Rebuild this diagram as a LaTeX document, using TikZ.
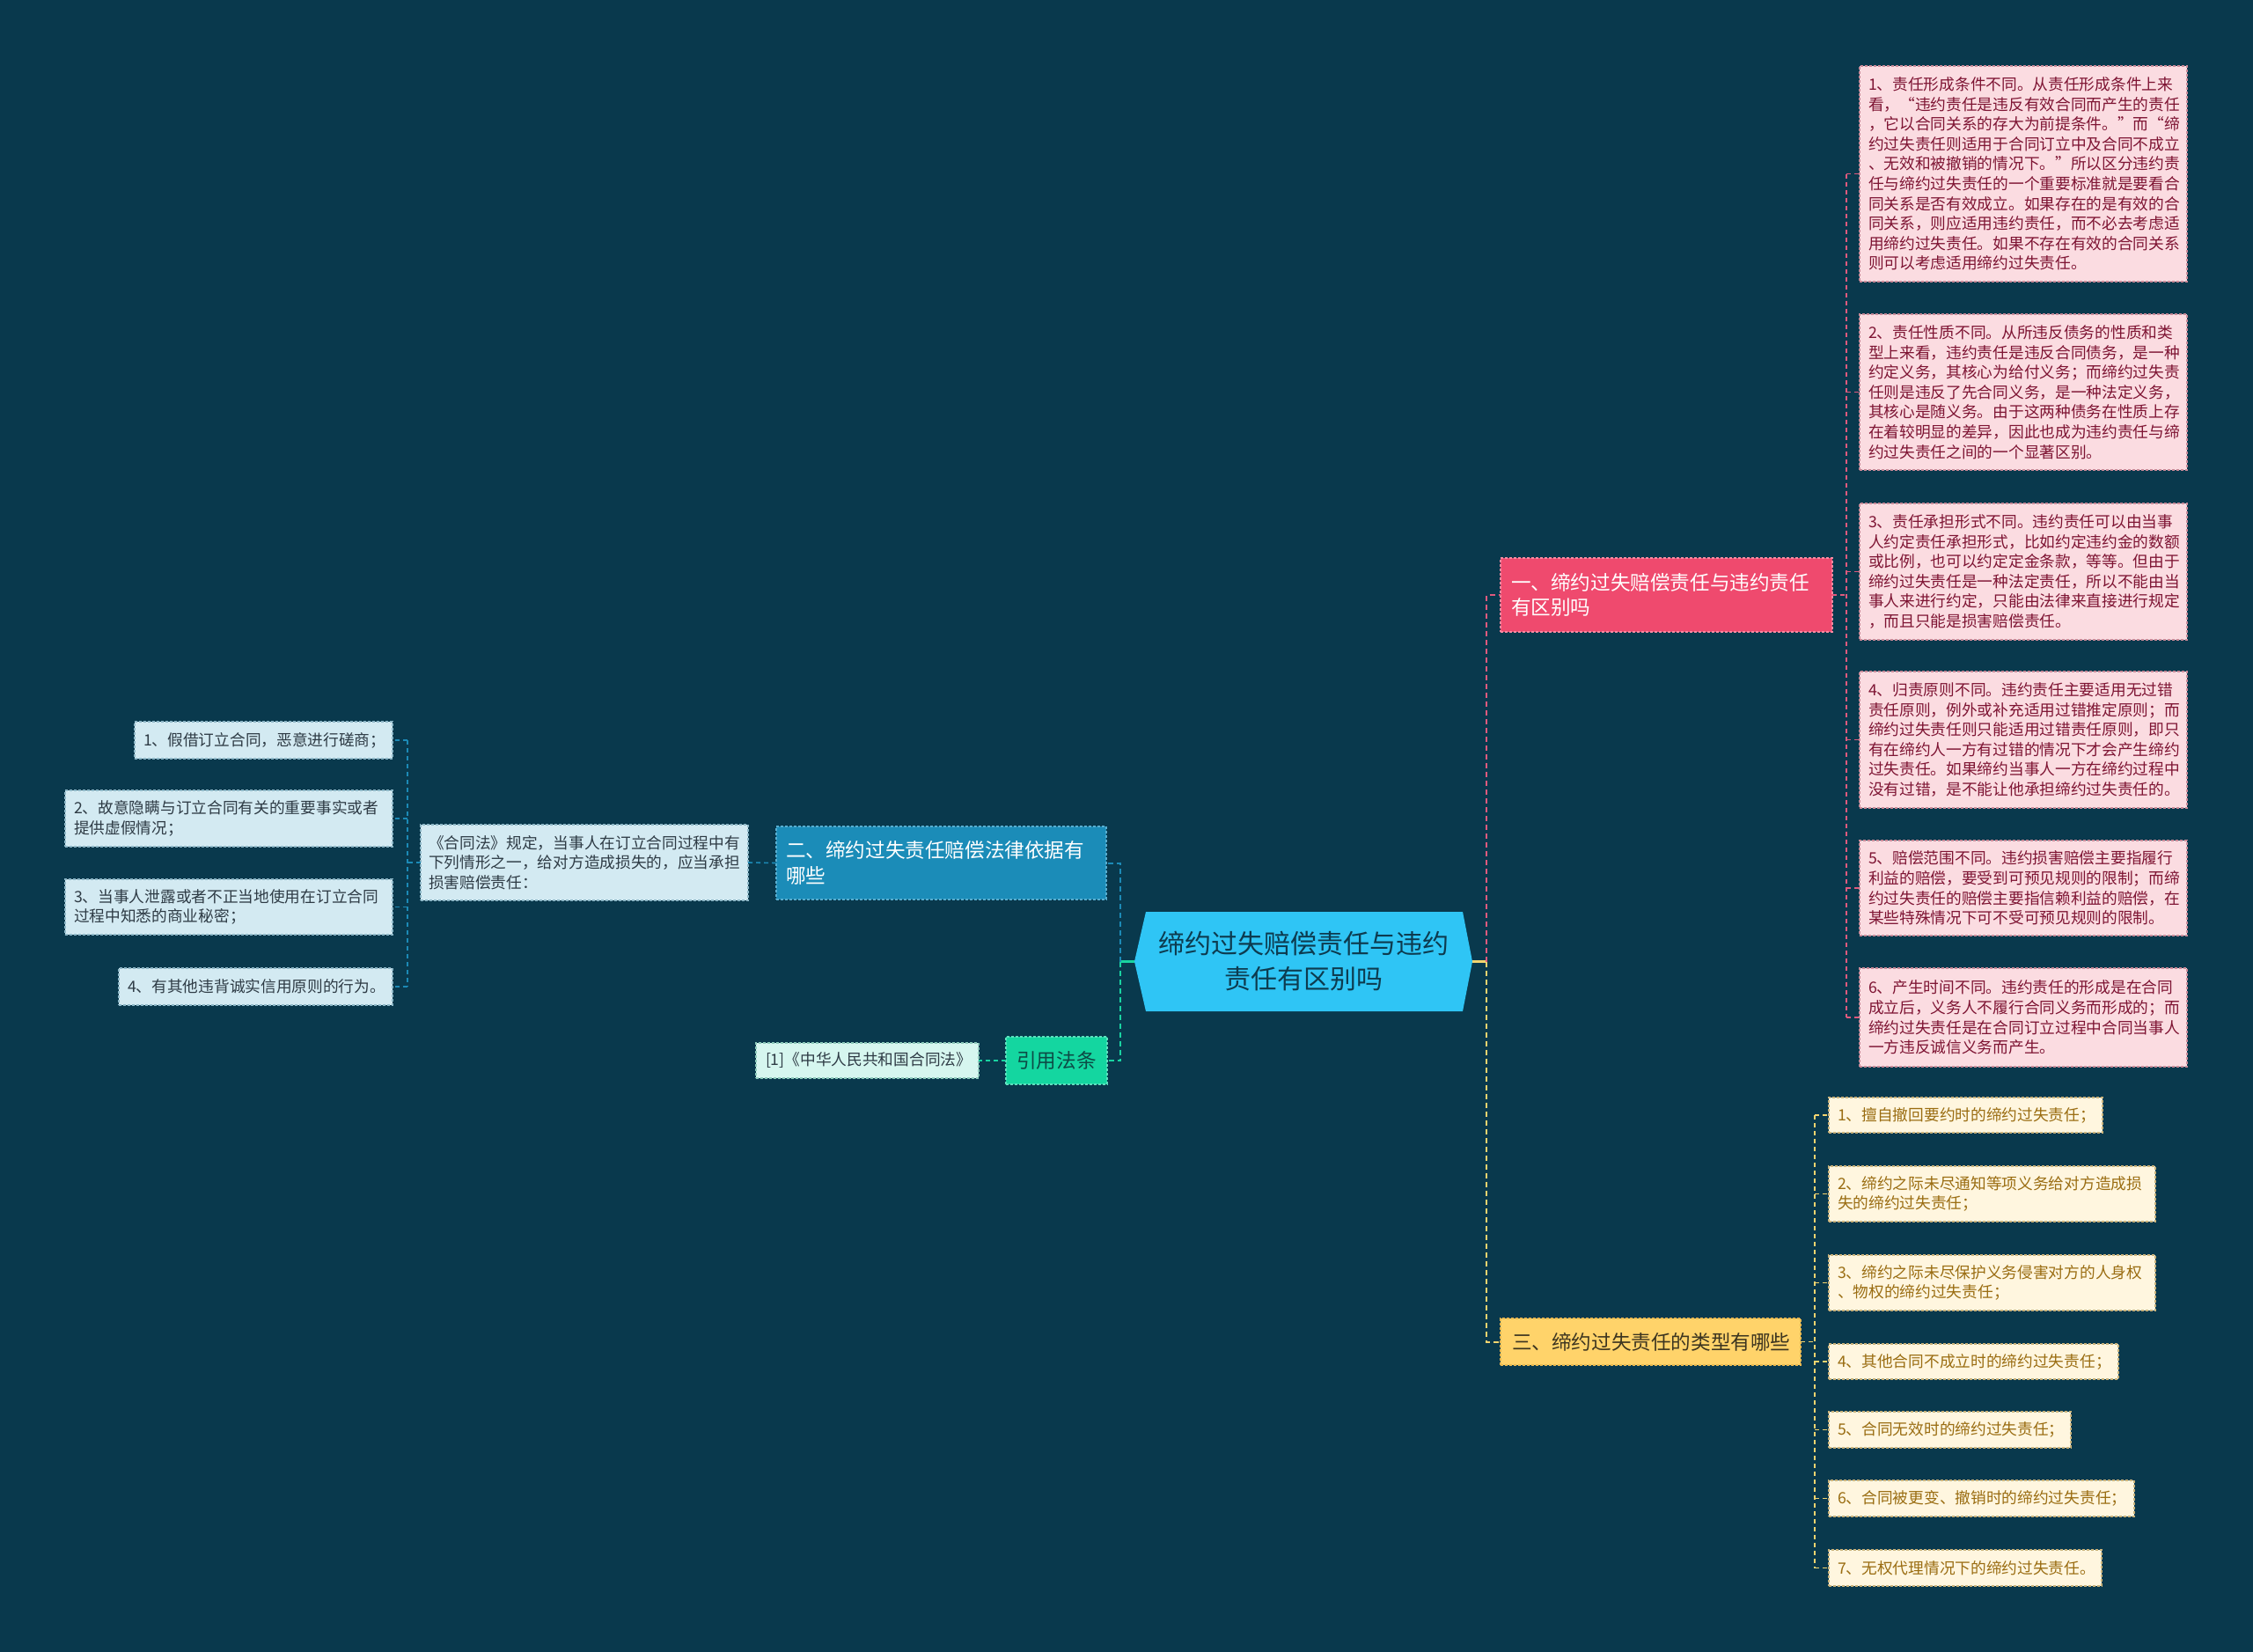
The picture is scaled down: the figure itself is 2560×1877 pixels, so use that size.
\documentclass[tikz,border=0pt]{standalone}
\usepackage{fontspec}
\setmainfont{Noto Sans CJK SC}
\definecolor{bgc}{HTML}{09394D}
\definecolor{rootf}{HTML}{2FC5F5}
\definecolor{roott}{HTML}{0D3B4F}
\definecolor{redf}{HTML}{EF4A6E}
\definecolor{redb}{HTML}{F68AA2}
\definecolor{pinkf}{HTML}{FBDCE1}
\definecolor{pinkt}{HTML}{7E1433}
\definecolor{pinkb}{HTML}{C98A98}
\definecolor{yelf}{HTML}{FFD36A}
\definecolor{yelt}{HTML}{3C3520}
\definecolor{yelb}{HTML}{E8B850}
\definecolor{creamf}{HTML}{FFF6DF}
\definecolor{creamt}{HTML}{9A6D12}
\definecolor{creamb}{HTML}{C9B27A}
\definecolor{bluef}{HTML}{1B8CB8}
\definecolor{blueb}{HTML}{58AED0}
\definecolor{paleb}{HTML}{D3EAF2}
\definecolor{palebt}{HTML}{2E3B45}
\definecolor{palebb}{HTML}{8DB7C7}
\definecolor{greenf}{HTML}{14D6A0}
\definecolor{greent}{HTML}{0D4A45}
\definecolor{mintf}{HTML}{D6F6EF}
\definecolor{mintb}{HTML}{8CC9BA}
\definecolor{redl}{HTML}{E05A7E}
\definecolor{yell}{HTML}{F2D46F}
\definecolor{bluel}{HTML}{1C8AB6}
\definecolor{greenl}{HTML}{19D3A1}
\newcommand\lffont{\fontsize{17.7}{22.6}\selectfont}
\newcommand\hdfont{\fontsize{22.6}{28.4}\selectfont}
\newcommand\rtfont{\fontsize{30}{40}\selectfont}
\begin{document}
\begin{tikzpicture}[x=1pt,y=-1pt,
  box/.style={anchor=north west, align=left, inner ysep=0pt, outer sep=0pt, dashed, dash pattern=on 3pt off 2pt, line width=1.2pt},
  pinkleaf/.style={box, fill=pinkf, draw=pinkb, text=pinkt, font=\lffont, inner xsep=10pt},
  creamleaf/.style={box, fill=creamf, draw=creamb, text=creamt, font=\lffont, inner xsep=10pt},
  paleleaf/.style={box, fill=paleb, draw=palebb, text=palebt, font=\lffont, inner xsep=10pt},
  mintleaf/.style={box, fill=mintf, draw=mintb, text=palebt, font=\lffont, inner xsep=11pt},
  redhead/.style={box, fill=redf, draw=redb, text=white, font=\hdfont, inner xsep=12pt},
  yelhead/.style={box, fill=yelf, draw=yelb, text=yelt, font=\hdfont, inner xsep=13pt},
  bluehead/.style={box, fill=bluef, draw=blueb, text=white, font=\hdfont, inner xsep=11pt},
  greenhead/.style={box, fill=greenf, draw=greenl!70!white, text=greent, font=\hdfont, align=center, inner xsep=0pt},
  conn/.style={line width=2pt, dashed, dash pattern=on 6pt off 4pt},
  lconn/.style={line width=1.6pt, dashed, dash pattern=on 5pt off 4pt}
]
\useasboundingbox (0,0) rectangle (2560,1877);
\fill[bgc] (0,0) rectangle (2560,1877);

% root
\node[minimum width=384pt, minimum height=113pt, inner sep=0pt, outer sep=0pt] (root) at (1481,1092.5) {};
\fill[rootf] (root.west) -- ([xshift=13pt]root.north west) -- ([xshift=-11pt]root.north east) -- (root.east) -- ([xshift=-11pt]root.south east) -- ([xshift=13pt]root.south west) -- cycle;
\node[align=center, font=\rtfont, text=roott, inner sep=0pt] (roottext) at (root.center) {缔约过失赔偿责任与违约\\责任有区别吗};

% branch heads
\node[redhead, minimum width=377pt, minimum height=84pt, text width=353pt] (b1) at (1705,634) {一、缔约过失赔偿责任与违约责任\\有区别吗};
\node[yelhead, minimum width=341pt, minimum height=53pt, text width=315pt] (b3) at (1705,1498) {三、缔约过失责任的类型有哪些};
\node[bluehead, minimum width=375pt, minimum height=83pt, text width=353pt] (b2) at (882,939) {二、缔约过失责任赔偿法律依据有\\哪些};
\node[greenhead, minimum width=115pt, minimum height=54pt] (b4) at (1143,1178) {引用法条};

% pink leaves
\node[pinkleaf, minimum width=372pt, minimum height=245pt, text width=352pt] (p1) at (2113,75) {1、责任形成条件不同。从责任形成条件上来\\看，“违约责任是违反有效合同而产生的责任\\，它以合同关系的存大为前提条件。”而“缔\\约过失责任则适用于合同订立中及合同不成立\\、无效和被撤销的情况下。”所以区分违约责\\任与缔约过失责任的一个重要标准就是要看合\\同关系是否有效成立。如果存在的是有效的合\\同关系，则应适用违约责任，而不必去考虑适\\用缔约过失责任。如果不存在有效的合同关系\\则可以考虑适用缔约过失责任。};
\node[pinkleaf, minimum width=372pt, minimum height=177pt, text width=352pt] (p2) at (2113,357) {2、责任性质不同。从所违反债务的性质和类\\型上来看，违约责任是违反合同债务，是一种\\约定义务，其核心为给付义务；而缔约过失责\\任则是违反了先合同义务，是一种法定义务，\\其核心是随义务。由于这两种债务在性质上存\\在着较明显的差异，因此也成为违约责任与缔\\约过失责任之间的一个显著区别。};
\node[pinkleaf, minimum width=372pt, minimum height=155pt, text width=352pt] (p3) at (2113,572) {3、责任承担形式不同。违约责任可以由当事\\人约定责任承担形式，比如约定违约金的数额\\或比例，也可以约定定金条款，等等。但由于\\缔约过失责任是一种法定责任，所以不能由当\\事人来进行约定，只能由法律来直接进行规定\\，而且只能是损害赔偿责任。};
\node[pinkleaf, minimum width=372pt, minimum height=155pt, text width=352pt] (p4) at (2113,763) {4、归责原则不同。违约责任主要适用无过错\\责任原则，例外或补充适用过错推定原则；而\\缔约过失责任则只能适用过错责任原则，即只\\有在缔约人一方有过错的情况下才会产生缔约\\过失责任。如果缔约当事人一方在缔约过程中\\没有过错，是不能让他承担缔约过失责任的。};
\node[pinkleaf, minimum width=372pt, minimum height=108pt, text width=352pt] (p5) at (2113,955) {5、赔偿范围不同。违约损害赔偿主要指履行\\利益的赔偿，要受到可预见规则的限制；而缔\\约过失责任的赔偿主要指信赖利益的赔偿，在\\某些特殊情况下可不受可预见规则的限制。};
\node[pinkleaf, minimum width=372pt, minimum height=112pt, text width=352pt] (p6) at (2113,1100) {6、产生时间不同。违约责任的形成是在合同\\成立后，义务人不履行合同义务而形成的；而\\缔约过失责任是在合同订立过程中合同当事人\\一方违反诚信义务而产生。};

% cream leaves
\node[creamleaf, minimum width=311pt, minimum height=40pt, text width=291pt] (y1) at (2078,1247) {1、擅自撤回要约时的缔约过失责任；};
\node[creamleaf, minimum width=371pt, minimum height=63pt, text width=351pt] (y2) at (2078,1325) {2、缔约之际未尽通知等项义务给对方造成损\\失的缔约过失责任；};
\node[creamleaf, minimum width=371pt, minimum height=63pt, text width=351pt] (y3) at (2078,1426) {3、缔约之际未尽保护义务侵害对方的人身权\\、物权的缔约过失责任；};
\node[creamleaf, minimum width=329pt, minimum height=40pt, text width=309pt] (y4) at (2078,1527) {4、其他合同不成立时的缔约过失责任；};
\node[creamleaf, minimum width=275pt, minimum height=41pt, text width=255pt] (y5) at (2078,1604) {5、合同无效时的缔约过失责任；};
\node[creamleaf, minimum width=347pt, minimum height=41pt, text width=327pt] (y6) at (2078,1682) {6、合同被更变、撤销时的缔约过失责任；};
\node[creamleaf, minimum width=310pt, minimum height=41pt, text width=290pt] (y7) at (2078,1761) {7、无权代理情况下的缔约过失责任。};

% left side
\node[paleleaf, inner xsep=9pt, minimum width=372pt, minimum height=86pt, text width=354pt] (c2) at (478,937) {《合同法》规定，当事人在订立合同过程中有\\下列情形之一，给对方造成损失的，应当承担\\损害赔偿责任：};
\node[paleleaf, minimum width=293pt, minimum height=42pt, text width=273pt] (q1) at (153,820) {1、假借订立合同，恶意进行磋商；};
\node[paleleaf, minimum width=372pt, minimum height=64pt, text width=352pt] (q2) at (74,898) {2、故意隐瞒与订立合同有关的重要事实或者\\提供虚假情况；};
\node[paleleaf, minimum width=372pt, minimum height=63pt, text width=352pt] (q3) at (74,999) {3、当事人泄露或者不正当地使用在订立合同\\过程中知悉的商业秘密；};
\node[paleleaf, minimum width=311pt, minimum height=42pt, text width=291pt] (q4) at (135,1100) {4、有其他违背诚实信用原则的行为。};
\node[mintleaf, minimum width=253pt, minimum height=40pt, text width=231pt] (r1) at (859,1185) {[1]《中华人民共和国合同法》};

% main connectors
\coordinate (rsp) at (1689,1092.5);
\coordinate (lsp) at (1273,1092.5);
\draw[yell, line width=2.5pt] (root.east) -- (rsp);
\draw[greenl, line width=2.5pt] (root.west) -- (lsp);
\draw[conn, redl] (rsp) |- (b1.west);
\draw[conn, yell] (rsp) |- (b3.west);
\draw[conn, bluel] (lsp) |- (b2.east);
\draw[conn, greenl] (lsp) |- (b4.east);

% pink children
\coordinate (ps) at (2098,676);
\draw[lconn, redl] (b1.east) -- (ps);
\draw[lconn, redl] (ps |- p1.west) -- (ps |- p6.west);
\foreach \n in {p1,p2,p3,p4,p5,p6} \draw[lconn, redl] (ps |- \n.west) -- (\n.west);

% cream children
\coordinate (ys) at (2062,1524.5);
\draw[lconn, yell] (b3.east) -- (ys);
\draw[lconn, yell] (ys |- y1.west) -- (ys |- y7.west);
\foreach \n in {y1,y2,y3,y4,y5,y6,y7} \draw[lconn, yell] (ys |- \n.west) -- (\n.west);

% blue children
\draw[lconn, bluel] (b2.west) -- (c2.east);
\coordinate (qs) at (463,980);
\draw[lconn, bluel] (c2.west) -- (qs);
\draw[lconn, bluel] (qs |- q1.east) -- (qs |- q4.east);
\foreach \n in {q1,q2,q3,q4} \draw[lconn, bluel] (qs |- \n.east) -- (\n.east);

% green child
\draw[lconn, greenl] (b4.west) -- (r1.east);
\end{tikzpicture}
\end{document}
